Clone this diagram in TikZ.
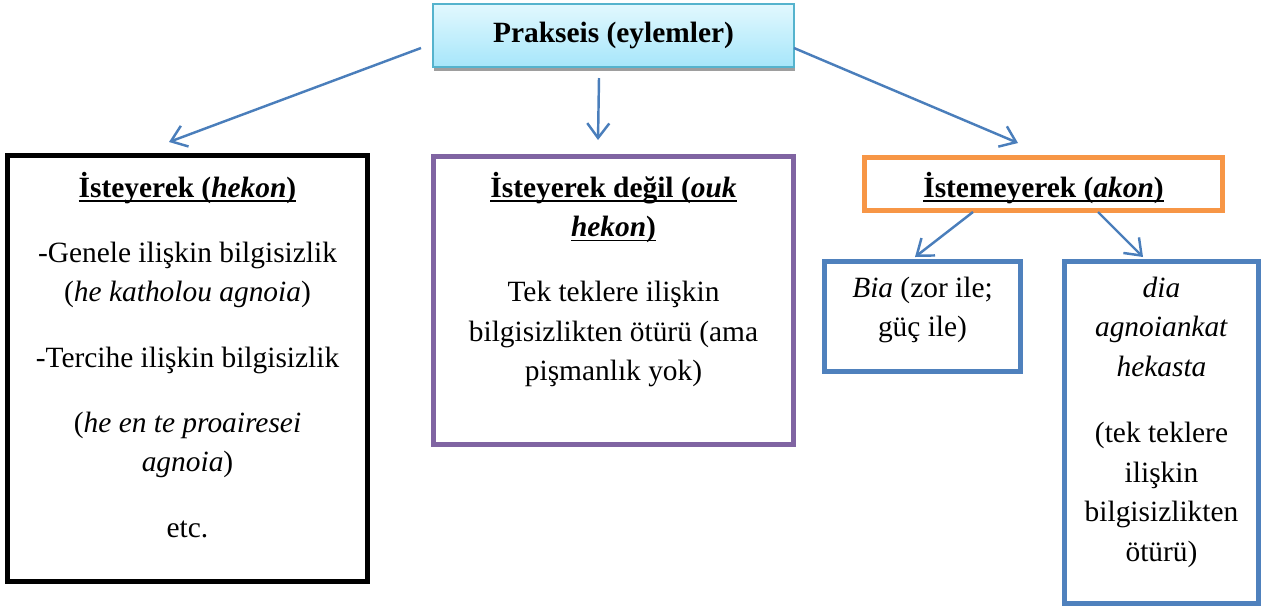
\documentclass[tikz,border=0pt]{standalone}
\usepackage{fontspec}
\setmainfont{Liberation Serif}
\usetikzlibrary{arrows.meta,fit,shadows}
\definecolor{topfill}{HTML}{E2F8FE}
\definecolor{topfilldark}{HTML}{A6E6FA}
\definecolor{topline}{HTML}{55B3CD}
\definecolor{boxpurple}{HTML}{8064A2}
\definecolor{boxorange}{HTML}{F79646}
\definecolor{boxblue}{HTML}{4F81BD}
\definecolor{arrowblue}{HTML}{4A7EBB}
\newcommand{\ulin}[1]{\setbox0=\hbox{#1}\rlap{\rule[-1.9pt]{\wd0}{0.7pt}}\box0}

\begin{document}
\begin{tikzpicture}[x=0.408pt,y=-0.408pt,
    font=\fontsize{12pt}{16.1pt}\selectfont]
      \useasboundingbox (0,0) rectangle (1261,606);
      \begin{scope}[every node/.style={rectangle,draw,line width=2pt,inner sep=0pt}]
        \node (P)[draw=topline,line width=0.6pt,top color=topfill,bottom color=topfilldark,
          drop shadow={shadow xshift=0.4pt,shadow yshift=-1.6pt,fill=black!38,opacity=1},
          minimum width=147.3pt,minimum height=25.7pt] at (613.5,35.5) {\textbf{Prakseis (eylemler)}};
        \node (H)[black] [fit={(7.5,155.5) (367.5,581.5)}] {};
        \node (O)[boxpurple] [fit={(433.5,156.5) (793.5,444.5)}] {};
        \node (A)[boxorange] [fit={(864.5,157.5) (1222.5,210.5)}] {};
        \node (B)[boxblue] [fit={(824.5,261.5) (1020.5,371.5)}] {};
        \node (D)[boxblue] [fit={(1064.5,261.5) (1258.5,603.5)}] {};
      \end{scope}
      % text tops: first baseline minus 12pt strut
      \begin{scope}[every node/.style={anchor=north,align=center,inner sep=0pt,
          execute at begin node=\rule{0pt}{12pt}}]
        \node (Ht) at (187.5,171.6) {\ulin{\textbf{İsteyerek (\textit{hekon})}}\\[10.5pt]
          -Genele ilişkin bilgisizlik\\
          (\textit{he katholou agnoia})\\[10.5pt]
          -Tercihe ilişkin bilgisizlik\\[10.5pt]
          (\textit{he en te proairesei}\\
          \textit{agnoia})\\[10.5pt]
          etc.};
        \node (Ot) at (613.5,171.6) {\ulin{\textbf{İsteyerek değil (\textit{ouk}}}\\
          \ulin{\textbf{\textit{hekon})}}\\[10.5pt]
          Tek teklere ilişkin\\
          bilgisizlikten ötürü (ama\\
          pişmanlık yok)};
        \node (At) at (1043.5,167.6) {\ulin{\textbf{İstemeyerek (\textit{akon})}}};
        \node (Bt) at (922.5,276.6) {\textit{Bia} (zor ile;\\
          güç ile)};
        \node (Dt) at (1161.5,276.6) {\textit{dia}\\
          \textit{agnoiankat}\\
          \textit{hekasta}\\[11pt]
          (tek teklere\\
          ilişkin\\
          bilgisizlikten\\
          ötürü)};
      \end{scope}
      \coordinate (p1) at (421,48);
      \coordinate (p2) at (599,78);
      \coordinate (p3) at (794,48);
      \coordinate (h1) at (169,142);
      \coordinate (o1) at (598,140);
      \coordinate (a1) at (1018,143);
      \coordinate (a2) at (973,212);
      \coordinate (a3) at (1098,212);
      \coordinate (b1) at (915,257);
      \coordinate (d1) at (1143,257);
      \begin{scope}
        [every edge/.style={draw=arrowblue,line width=1pt,
        -{Straight Barb[length=6pt,width=9pt]}}]
        \path (p1) edge (h1);
        \path (p2) edge (o1);
        \path (p3) edge (a1);
        \path (a2) edge (b1);
        \path (a3) edge (d1);
      \end{scope}
    \end{tikzpicture}
\end{document}
